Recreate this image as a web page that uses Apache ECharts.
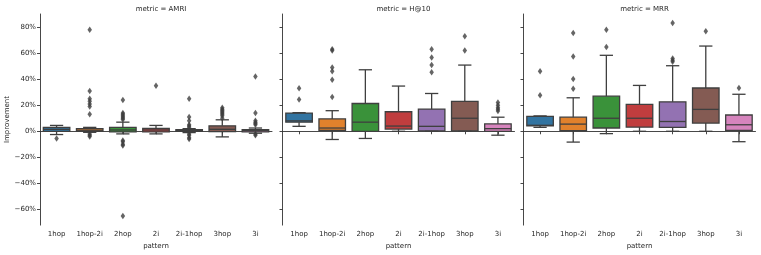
<!DOCTYPE html>
<html>
<head>
<meta charset="utf-8">
<script src="https://cdn.jsdelivr.net/npm/echarts@6/dist/echarts.min.js"></script>
<style>html,body{margin:0;padding:0;background:#fff}#c{width:761px;height:255px}</style>
</head>
<body>
<div id="c"></div>
<script>
// ---------- data ----------
const categories = ['1hop', '1hop-2i', '2hop', '2i', '2i-1hop', '3hop', '3i'];
const metrics = ['AMRI', 'H@10', 'MRR'];
const yTicks = [-60, -40, -20, 0, 20, 40, 60, 80];

// box stats per pattern: [min whisker, Q1, median, Q3, max whisker] (percent)
const amriStats = [
  [-2.5, 0, 1.5, 3, 4.5],
  [-0.8, 0, 0.8, 2, 3],
  [-2, -0.5, 1, 3, 7],
  [-2, -0.5, 1, 2.2, 4.5],
  [-1, 0, 0.5, 1.2, 2],
  [-4.3, -0.3, 1.5, 4.2, 8.8],
  [-1.5, -0.5, 0.5, 1.2, 2.5]
];
const amriOutliers = [
  [-5.6],
  [78, 31, 25, 23, 21, 19, 13, -2, -3, -4],
  [24, 14, 13, 12, 11, 10, 9, -7, -8, -10, -11, -65],
  [35],
  [25, 11, 8, 5, 4, 3, -2, -3, -5, -6],
  [18, 17, 16, 15, 14, 13, 12, 10],
  [42, 14, 8, 7, 6, 5, -2, -3]
];
const h10Stats = [
  [3.8, 7, 8, 14, 14.3],
  [-6.3, 0.7, 2.5, 9.5, 15.8],
  [-5.5, 0, 7, 21.3, 47.2],
  [0, 1.7, 4, 15, 34.7],
  [0, 0.3, 3.8, 17, 29],
  [0, 0.3, 10, 23, 50.8],
  [-3, 0, 2, 5.7, 10.8]
];
const h10Outliers = [
  [33, 24.4],
  [63, 62, 49, 46, 39.5, 26.4],
  [],
  [],
  [63, 56.6, 50.8, 45.3],
  [73, 62],
  [22, 20, 18, 17, 15.5]
];
const mrrStats = [
  [3, 4.2, 4.6, 11.5, 11.8],
  [-8.3, 0.5, 5.5, 10.8, 25.7],
  [-1.8, 2.5, 10, 26.9, 58.3],
  [0, 3.2, 10, 20.6, 35.2],
  [0, 3, 7.5, 22.6, 50.3],
  [0, 6.3, 16.8, 33.2, 65.4],
  [-8, 0.7, 5, 12.5, 28.4]
];
const mrrOutliers = [
  [46, 27.6],
  [75.5, 57.4, 40.2, 32.7],
  [78, 64.6],
  [],
  [83, 55.8, 54.5, 53.3],
  [76.7],
  [33.2]
];

// ---------- styles ----------
const palette = ['#3274a1', '#e1812c', '#3a923a', '#c03d3e', '#9372b2', '#845b53', '#d684bd'];
const gray = '#3f3f3f';
const FONT = 'DejaVu Sans';
const txt = '#262626';
const gridLefts = [40, 282.5, 523.5];
const gridW = 232;
const gridTop = 14, gridBottom = 27;

const statsAll = [amriStats, h10Stats, mrrStats];
const outAll = [amriOutliers, h10Outliers, mrrOutliers];

function renderBox(params, api) {
  const x = api.value(0);
  const band = api.size([1, 0])[0];
  const w = band * 0.8, cw = w * 0.5;
  const pMin = api.coord([x, api.value(1)]);
  const pQ1 = api.coord([x, api.value(2)]);
  const pMed = api.coord([x, api.value(3)]);
  const pQ3 = api.coord([x, api.value(4)]);
  const pMax = api.coord([x, api.value(5)]);
  const cx = pMin[0];
  const col = palette[api.value(6)];
  const ls = { stroke: gray, lineWidth: 1.3, fill: null };
  return {
    type: 'group',
    children: [
      { type: 'rect', shape: { x: cx - w / 2, y: pQ3[1], width: w, height: pQ1[1] - pQ3[1] },
        style: { fill: col, stroke: gray, lineWidth: 1.3 } },
      { type: 'line', shape: { x1: cx, y1: pQ1[1], x2: cx, y2: pMin[1] }, style: ls },
      { type: 'line', shape: { x1: cx, y1: pQ3[1], x2: cx, y2: pMax[1] }, style: ls },
      { type: 'line', shape: { x1: cx - cw / 2, y1: pMin[1], x2: cx + cw / 2, y2: pMin[1] }, style: ls },
      { type: 'line', shape: { x1: cx - cw / 2, y1: pMax[1], x2: cx + cw / 2, y2: pMax[1] }, style: ls },
      { type: 'line', shape: { x1: cx - w / 2, y1: pMed[1], x2: cx + w / 2, y2: pMed[1] }, style: ls }
    ]
  };
}

const grids = [], xAxes = [], yAxes = [], series = [], titles = [];
metrics.forEach((m, g) => {
  grids.push({ left: gridLefts[g], width: gridW, top: gridTop, bottom: gridBottom });
  titles.push({
    text: 'metric = ' + m, left: gridLefts[g] + gridW / 2, top: 1, textAlign: 'center',
    textStyle: { fontFamily: FONT, fontSize: 7, fontWeight: 'normal', color: txt }
  });
  xAxes.push({
    type: 'category', gridIndex: g, data: categories, boundaryGap: true,
    name: 'pattern', nameLocation: 'middle', nameGap: 16,
    nameTextStyle: { fontFamily: FONT, fontSize: 7, color: txt },
    axisLine: { show: true, lineStyle: { color: '#333', width: 0.9 } },
    axisTick: { show: true, alignWithLabel: true, length: 3, lineStyle: { color: '#333', width: 0.9 } },
    axisLabel: { fontFamily: FONT, fontSize: 7, color: txt, margin: 6, interval: 0 },
    splitLine: { show: false }
  });
  yAxes.push({
    type: 'value', gridIndex: g, min: -72, max: 90,
    name: g === 0 ? 'Improvement' : '', nameLocation: 'middle', nameGap: 29,
    nameTextStyle: { fontFamily: FONT, fontSize: 7, color: txt },
    axisLine: { show: true, lineStyle: { color: '#333', width: 0.9 } },
    axisTick: { show: true, length: 3, customValues: yTicks, lineStyle: { color: '#333', width: 0.9 } },
    axisLabel: {
      show: g === 0, customValues: yTicks, fontFamily: FONT, fontSize: 7, color: txt, margin: 4,
      formatter: v => (v < 0 ? '\u2212' + Math.abs(v) : String(v)) + '%'
    },
    splitLine: { show: false }
  });
  const boxData = statsAll[g].map((s, i) => [i, s[0], s[1], s[2], s[3], s[4], i]);
  series.push({
    type: 'custom', xAxisIndex: g, yAxisIndex: g, renderItem: renderBox,
    encode: { x: 0, y: [1, 2, 3, 4, 5] }, data: boxData, silent: true, z: 2
  });
  const outData = [];
  outAll[g].forEach((arr, i) => arr.forEach(v => outData.push([i, v])));
  series.push({
    type: 'scatter', xAxisIndex: g, yAxisIndex: g, data: outData,
    symbol: 'diamond', symbolSize: [4.5, 6.5],
    itemStyle: { color: gray }, silent: true, z: 3
  });
});

const chart = echarts.init(document.getElementById('c'), null, { renderer: 'canvas' });
chart.setOption({
  animation: false,
  backgroundColor: '#fff',
  title: titles,
  grid: grids,
  xAxis: xAxes,
  yAxis: yAxes,
  series: series
});
</script>
</body>
</html>
